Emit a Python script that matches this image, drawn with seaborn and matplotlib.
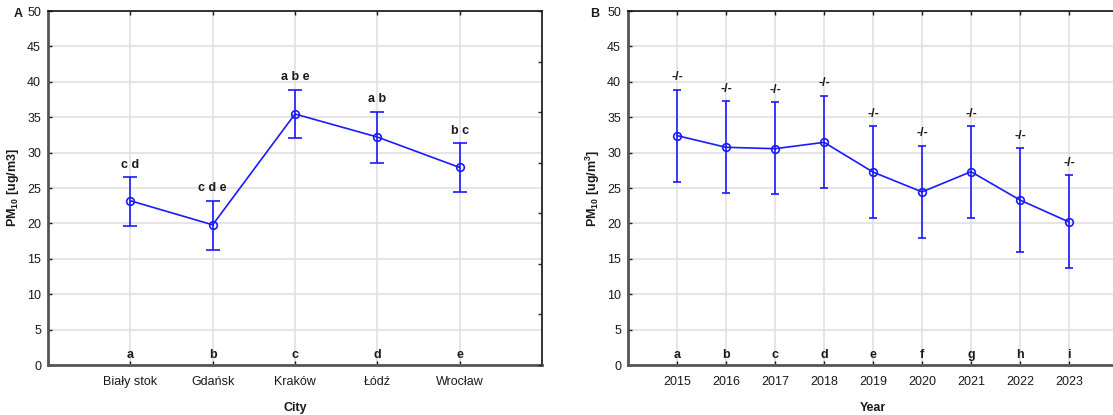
import numpy as np
import pandas as pd
import matplotlib
matplotlib.use("Agg")
import matplotlib.pyplot as plt
import seaborn as sns

# ---- data ----
cities = ["Biały stok", "Gdańsk", "Kraków", "Łódź", "Wrocław"]
city_mean = [23.2, 19.8, 35.45, 32.2, 27.9]
city_upper = [26.55, 23.2, 38.9, 35.8, 31.35]
city_lower = [19.7, 16.3, 32.1, 28.5, 24.5]
city_top_labels = ["c d", "c d e", "a b e", "a b", "b c"]
city_bottom_labels = ["a", "b", "c", "d", "e"]

years = [2015, 2016, 2017, 2018, 2019, 2020, 2021, 2022, 2023]
year_mean = [32.4, 30.75, 30.55, 31.45, 27.25, 24.45, 27.3, 23.3, 20.2]
year_upper = [38.9, 37.3, 37.15, 38.05, 33.75, 31.0, 33.75, 30.6, 26.8]
year_lower = [25.9, 24.3, 24.1, 25.0, 20.8, 18.0, 20.8, 16.0, 13.7]
year_top_labels = ["-/-"] * 9
year_bottom_labels = ["a", "b", "c", "d", "e", "f", "g", "h", "i"]

sns.set_theme(style="white")
plt.rcParams["font.family"] = ["Liberation Sans", "DejaVu Sans"]
plt.rcParams["mathtext.fontset"] = "custom"
plt.rcParams["mathtext.rm"] = "Liberation Sans:bold"
plt.rcParams["mathtext.bf"] = "Liberation Sans:bold"
plt.rcParams["mathtext.it"] = "Liberation Sans:bold"
plt.rcParams["mathtext.default"] = "bf"

W, H = 1113, 415
fig = plt.figure(figsize=(W / 100, H / 100), dpi=100)

BLUE = "#1a1aff"
GRID = "#e0e0e0"
SPINE_DARK = "#555555"
TXT = "#1a1a1a"


def px_axes(l, r, t, b):
    return fig.add_axes([l / W, 1 - b / H, (r - l) / W, (b - t) / H])


def style_axes(ax, xpos, xlim):
    ax.set_xlim(*xlim)
    ax.set_ylim(0, 50)
    ax.set_yticks(np.arange(0, 51, 5))
    ax.set_xticks(xpos)
    ax.grid(True, color=GRID, linewidth=1.2)
    ax.set_axisbelow(True)
    for s in ["left", "bottom"]:
        ax.spines[s].set_color(SPINE_DARK)
        ax.spines[s].set_linewidth(2.0)
    for s in ["top", "right"]:
        ax.spines[s].set_color("#111111")
        ax.spines[s].set_linewidth(1.2)
    ax.tick_params(axis="both", direction="in", length=3, width=1,
                   labelsize=9, colors=TXT, pad=5)
    ax.tick_params(axis="x", top=True, bottom=True, pad=8)
    ax.tick_params(axis="y", left=True, right=False)


def draw(ax, xpos, mean, lower, upper, toplabs, botlabs, capsize):
    df = pd.DataFrame({"x": xpos, "y": mean})
    sns.lineplot(data=df, x="x", y="y", ax=ax, color=BLUE, linewidth=1.2,
                 marker="o", markersize=5.5, markerfacecolor="none",
                 markeredgecolor=BLUE, markeredgewidth=1.2, zorder=3)
    m = np.array(mean)
    yerr = [m - np.array(lower), np.array(upper) - m]
    ax.errorbar(xpos, mean, yerr=yerr, fmt="none", ecolor=BLUE,
                elinewidth=1.2, capsize=capsize, capthick=1.2, zorder=3)
    for x, u, t in zip(xpos, upper, toplabs):
        ax.text(x, u + 0.9, t, ha="center", va="bottom", fontsize=9,
                fontweight="bold", color=TXT)
    for x, t in zip(xpos, botlabs):
        ax.text(x, 0.5, t, ha="center", va="bottom", fontsize=9,
                fontweight="bold", color=TXT)
    ax.set_xlabel("")
    ax.set_ylabel("")


# ---- Panel A ----
axA = px_axes(48, 542, 11, 365)
posA = list(range(len(cities)))
draw(axA, posA, city_mean, city_lower, city_upper,
     city_top_labels, city_bottom_labels, capsize=5)
style_axes(axA, posA, (-1, len(cities)))
axA.set_xticklabels(cities)
axA.set_xlabel("City", fontsize=9, fontweight="bold", labelpad=10, color=TXT)
axA.set_ylabel("PM$_{10}$ [ug/m3]", fontsize=9, fontweight="bold", labelpad=4, color=TXT)
twA = axA.twinx()
twA.set_ylim(0, 50)
twA.set_yticks(np.linspace(0, 50, 8))
twA.set_yticklabels([])
twA.tick_params(axis="y", direction="in", length=3, width=1, right=True)
for s in twA.spines.values():
    s.set_visible(False)
twA.grid(False)
fig.text(14 / W, 1 - 14 / H, "A", fontsize=9, fontweight="bold", va="center", color=TXT)

# ---- Panel B ----
axB = px_axes(628, 1118, 11, 365)
draw(axB, years, year_mean, year_lower, year_upper,
     year_top_labels, year_bottom_labels, capsize=3)
style_axes(axB, years, (years[0] - 1, years[-1] + 1))
axB.set_xticklabels([str(y) for y in years])
axB.set_xlabel("Year", fontsize=9, fontweight="bold", labelpad=10, color=TXT)
axB.set_ylabel("PM$_{10}$ [ug/m$^{3}$]", fontsize=9, fontweight="bold", labelpad=4, color=TXT)
fig.text(590 / W, 1 - 14 / H, "B", fontsize=9, fontweight="bold", va="center", color=TXT)

fig.savefig("out.png", dpi=100)
